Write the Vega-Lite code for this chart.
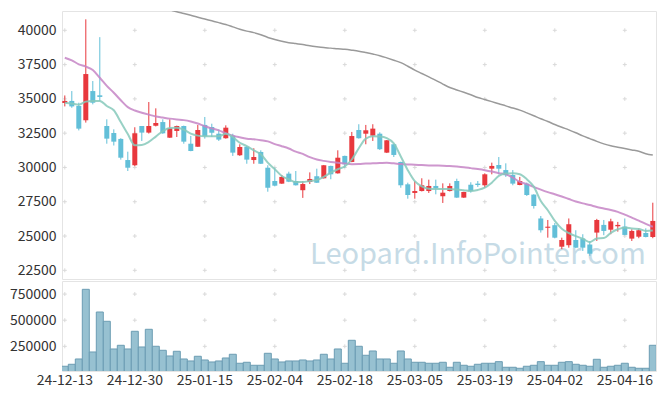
{
  "$schema": "https://vega.github.io/schema/vega-lite/v6.json",
  "background": "white",
  "padding": {"left": 8, "top": 10, "right": 5, "bottom": 5},
  "config": {
    "view": {"stroke": "#e4e4e4", "strokeWidth": 1},
    "axis": {"domain": false, "ticks": false, "grid": false, "labelFont": "Noto Sans CJK KR", "labelFontSize": 14, "labelColor": "#333333"},
    "concat": {"spacing": 0}
  },
  "datasets": {
    "px": [
      {"d":"24-12-13","o":34700,"h":35250,"l":34450,"c":34850,"v":59300,"m5":34720,"m20":38000,"m60":null},
      {"d":"24-12-16","o":34850,"h":35570,"l":34350,"c":34450,"v":78400,"m5":34660,"m20":37810,"m60":null},
      {"d":"24-12-17","o":34480,"h":34720,"l":32700,"c":32830,"v":129000,"m5":34570,"m20":37520,"m60":null},
      {"d":"24-12-18","o":33440,"h":40800,"l":33270,"c":36810,"v":795400,"m5":34800,"m20":37350,"m60":null},
      {"d":"24-12-19","o":35570,"h":36300,"l":34600,"c":34720,"v":196000,"m5":34850,"m20":37100,"m60":null},
      {"d":"24-12-20","o":35260,"h":39500,"l":34850,"c":35140,"v":578400,"m5":34850,"m20":36540,"m60":null},
      {"d":"24-12-23","o":33020,"h":33510,"l":31730,"c":32100,"v":489500,"m5":34480,"m20":35950,"m60":null},
      {"d":"24-12-24","o":32510,"h":32780,"l":31600,"c":31880,"v":224700,"m5":34170,"m20":35450,"m60":null},
      {"d":"24-12-26","o":32080,"h":32130,"l":30570,"c":30710,"v":260000,"m5":33310,"m20":34900,"m60":null},
      {"d":"24-12-27","o":30540,"h":31150,"l":29740,"c":29980,"v":224700,"m5":32440,"m20":34400,"m60":null},
      {"d":"24-12-30","o":30160,"h":32930,"l":30090,"c":32490,"v":393900,"m5":31620,"m20":34150,"m60":null},
      {"d":"25-01-02","o":33020,"h":33020,"l":31930,"c":32540,"v":243800,"m5":31640,"m20":33990,"m60":null},
      {"d":"25-01-03","o":32540,"h":34770,"l":32470,"c":33020,"v":413000,"m5":31860,"m20":33850,"m60":null},
      {"d":"25-01-06","o":33040,"h":34310,"l":32990,"c":33240,"v":250500,"m5":32250,"m20":33720,"m60":null},
      {"d":"25-01-07","o":33310,"h":33510,"l":32450,"c":32490,"v":212200,"m5":32650,"m20":33640,"m60":41650},
      {"d":"25-01-08","o":32170,"h":33510,"l":32150,"c":32860,"v":157700,"m5":32880,"m20":33560,"m60":41500},
      {"d":"25-01-09","o":32660,"h":33050,"l":32220,"c":33020,"v":202700,"m5":32900,"m20":33500,"m60":41350},
      {"d":"25-01-10","o":33020,"h":33050,"l":31730,"c":31880,"v":129000,"m5":32760,"m20":33450,"m60":41230},
      {"d":"25-01-13","o":31730,"h":32300,"l":31180,"c":31200,"v":110000,"m5":32460,"m20":33350,"m60":41100},
      {"d":"25-01-14","o":31510,"h":33100,"l":31500,"c":32730,"v":154900,"m5":32320,"m20":33200,"m60":40950},
      {"d":"25-01-15","o":33100,"h":33680,"l":32100,"c":32270,"v":119500,"m5":32280,"m20":33000,"m60":40820},
      {"d":"25-01-16","o":32950,"h":33190,"l":32220,"c":32530,"v":100400,"m5":32280,"m20":32850,"m60":40690},
      {"d":"25-01-17","o":32460,"h":32780,"l":31930,"c":32030,"v":110000,"m5":32280,"m20":32700,"m60":40560},
      {"d":"25-01-20","o":32130,"h":33070,"l":32100,"c":32900,"v":138600,"m5":32450,"m20":32500,"m60":40420},
      {"d":"25-01-21","o":32320,"h":32460,"l":30840,"c":31080,"v":174000,"m5":32220,"m20":32320,"m60":40250},
      {"d":"25-01-22","o":30890,"h":31690,"l":30840,"c":31490,"v":88000,"m5":31800,"m20":32200,"m60":40080},
      {"d":"25-01-23","o":31510,"h":31550,"l":30270,"c":30570,"v":97500,"m5":31560,"m20":32100,"m60":39940},
      {"d":"25-01-24","o":30540,"h":31400,"l":30270,"c":30760,"v":68800,"m5":31250,"m20":32050,"m60":39830},
      {"d":"25-01-31","o":31130,"h":31250,"l":30250,"c":30270,"v":68800,"m5":30960,"m20":31980,"m60":39680},
      {"d":"25-02-03","o":29980,"h":30160,"l":28230,"c":28520,"v":183500,"m5":30350,"m20":31900,"m60":39480},
      {"d":"25-02-04","o":29010,"h":29980,"l":28620,"c":28670,"v":129000,"m5":29870,"m20":31700,"m60":39330},
      {"d":"25-02-05","o":28820,"h":29450,"l":28800,"c":29310,"v":100400,"m5":29380,"m20":31550,"m60":39200},
      {"d":"25-02-06","o":29550,"h":29690,"l":28930,"c":28960,"v":110000,"m5":29140,"m20":31380,"m60":39100},
      {"d":"25-02-07","o":29010,"h":29740,"l":28680,"c":28700,"v":110000,"m5":28940,"m20":31150,"m60":39030},
      {"d":"25-02-10","o":28340,"h":29000,"l":27780,"c":28790,"v":119500,"m5":28940,"m20":30990,"m60":38960},
      {"d":"25-02-11","o":28940,"h":29640,"l":28790,"c":29160,"v":110000,"m5":29010,"m20":30750,"m60":38870},
      {"d":"25-02-12","o":29350,"h":29910,"l":28870,"c":28890,"v":119500,"m5":29090,"m20":30580,"m60":38800},
      {"d":"25-02-13","o":29210,"h":30180,"l":29190,"c":30160,"v":174000,"m5":29310,"m20":30480,"m60":38740},
      {"d":"25-02-14","o":30110,"h":30130,"l":29140,"c":29500,"v":129000,"m5":29620,"m20":30400,"m60":38700},
      {"d":"25-02-17","o":29570,"h":31250,"l":29550,"c":30710,"v":224700,"m5":29870,"m20":30340,"m60":38650},
      {"d":"25-02-18","o":30840,"h":30860,"l":29980,"c":30230,"v":88000,"m5":30080,"m20":30290,"m60":38610},
      {"d":"25-02-19","o":30400,"h":32590,"l":30380,"c":32290,"v":307800,"m5":30580,"m20":30240,"m60":38550},
      {"d":"25-02-20","o":32730,"h":33150,"l":32100,"c":32130,"v":250500,"m5":31400,"m20":30250,"m60":38480},
      {"d":"25-02-21","o":32460,"h":33100,"l":31690,"c":32710,"v":164400,"m5":32100,"m20":30280,"m60":38380},
      {"d":"25-02-24","o":32320,"h":33150,"l":31930,"c":32830,"v":205500,"m5":32270,"m20":30300,"m60":38270},
      {"d":"25-02-25","o":32460,"h":32560,"l":31270,"c":31330,"v":129000,"m5":32250,"m20":30320,"m60":38150},
      {"d":"25-02-26","o":31080,"h":32000,"l":31050,"c":31980,"v":129000,"m5":32140,"m20":30340,"m60":37990},
      {"d":"25-02-27","o":31690,"h":31720,"l":30760,"c":30910,"v":88000,"m5":31750,"m20":30300,"m60":37820},
      {"d":"25-02-28","o":30400,"h":30420,"l":28520,"c":28700,"v":205500,"m5":30800,"m20":30250,"m60":37640},
      {"d":"25-03-04","o":28770,"h":28890,"l":27720,"c":27990,"v":129000,"m5":29800,"m20":30220,"m60":37380},
      {"d":"25-03-05","o":28140,"h":29010,"l":27720,"c":28280,"v":97500,"m5":29000,"m20":30200,"m60":37100},
      {"d":"25-03-06","o":28280,"h":29210,"l":28250,"c":28700,"v":97500,"m5":28620,"m20":30170,"m60":36850},
      {"d":"25-03-07","o":28280,"h":29110,"l":28140,"c":28650,"v":88000,"m5":28450,"m20":30150,"m60":36600},
      {"d":"25-03-10","o":28650,"h":29110,"l":28040,"c":28480,"v":88000,"m5":28430,"m20":30140,"m60":36350},
      {"d":"25-03-11","o":27900,"h":28840,"l":27410,"c":28160,"v":97500,"m5":28430,"m20":30130,"m60":36080},
      {"d":"25-03-12","o":28280,"h":28840,"l":28250,"c":28650,"v":49700,"m5":28420,"m20":30110,"m60":35830},
      {"d":"25-03-13","o":29010,"h":29180,"l":27780,"c":27800,"v":97500,"m5":28400,"m20":30070,"m60":35650},
      {"d":"25-03-14","o":27800,"h":28230,"l":27780,"c":28210,"v":68800,"m5":28340,"m20":30020,"m60":35480},
      {"d":"25-03-17","o":28740,"h":28920,"l":28160,"c":28280,"v":59300,"m5":28280,"m20":29950,"m60":35300},
      {"d":"25-03-18","o":28820,"h":29010,"l":28580,"c":28720,"v":78400,"m5":28360,"m20":29880,"m60":35100},
      {"d":"25-03-19","o":28700,"h":29570,"l":28520,"c":29500,"v":88000,"m5":28530,"m20":29800,"m60":34950},
      {"d":"25-03-20","o":29910,"h":30350,"l":29500,"c":30110,"v":88000,"m5":28890,"m20":29700,"m60":34800},
      {"d":"25-03-21","o":30180,"h":30760,"l":29500,"c":29910,"v":103300,"m5":29380,"m20":29580,"m60":34640},
      {"d":"25-03-24","o":29810,"h":30300,"l":29310,"c":29430,"v":49700,"m5":29550,"m20":29500,"m60":34490},
      {"d":"25-03-25","o":29450,"h":29810,"l":28700,"c":28820,"v":49700,"m5":29570,"m20":29250,"m60":34330},
      {"d":"25-03-26","o":28720,"h":29310,"l":28700,"c":29010,"v":40100,"m5":29500,"m20":28950,"m60":34180},
      {"d":"25-03-27","o":28820,"h":28900,"l":27920,"c":27990,"v":59300,"m5":29140,"m20":28780,"m60":33980},
      {"d":"25-03-28","o":28020,"h":28050,"l":27000,"c":27190,"v":68800,"m5":28600,"m20":28580,"m60":33770},
      {"d":"25-03-31","o":26280,"h":26460,"l":25250,"c":25420,"v":103300,"m5":27550,"m20":28380,"m60":33550},
      {"d":"25-04-01","o":25600,"h":26170,"l":24880,"c":25680,"v":68800,"m5":26880,"m20":28200,"m60":33350},
      {"d":"25-04-02","o":25790,"h":25950,"l":24830,"c":24880,"v":68800,"m5":26100,"m20":28050,"m60":33130},
      {"d":"25-04-03","o":24220,"h":24880,"l":24040,"c":24710,"v":97500,"m5":25530,"m20":27880,"m60":32930},
      {"d":"25-04-04","o":24330,"h":26280,"l":24150,"c":25860,"v":103300,"m5":25220,"m20":27700,"m60":32740},
      {"d":"25-04-07","o":24710,"h":25420,"l":24130,"c":24150,"v":78400,"m5":24990,"m20":27520,"m60":32530},
      {"d":"25-04-08","o":24810,"h":25130,"l":23910,"c":24150,"v":68800,"m5":24800,"m20":27380,"m60":32300},
      {"d":"25-04-09","o":24380,"h":24640,"l":23550,"c":23710,"v":59300,"m5":24550,"m20":27260,"m60":32100},
      {"d":"25-04-10","o":25250,"h":26250,"l":24640,"c":26170,"v":126000,"m5":24820,"m20":27120,"m60":31900},
      {"d":"25-04-11","o":25810,"h":26170,"l":25060,"c":25370,"v":49700,"m5":24850,"m20":27010,"m60":31720},
      {"d":"25-04-14","o":25460,"h":26260,"l":25130,"c":26070,"v":59300,"m5":25230,"m20":26900,"m60":31580},
      {"d":"25-04-15","o":25710,"h":26030,"l":25320,"c":25810,"v":68800,"m5":25490,"m20":26760,"m60":31480},
      {"d":"25-04-16","o":25690,"h":26280,"l":25050,"c":25080,"v":88000,"m5":25630,"m20":26560,"m60":31380},
      {"d":"25-04-17","o":24810,"h":25490,"l":24640,"c":25370,"v":49700,"m5":25550,"m20":26340,"m60":31280},
      {"d":"25-04-18","o":24950,"h":25560,"l":24840,"c":25420,"v":40100,"m5":25520,"m20":26120,"m60":31180},
      {"d":"25-04-21","o":25220,"h":25560,"l":24900,"c":24930,"v":40100,"m5":25370,"m20":25880,"m60":31000},
      {"d":"25-04-22","o":24930,"h":27430,"l":24840,"c":26100,"v":260000,"m5":25400,"m20":25670,"m60":30900}
    ],
    "pgrid": [
      {"d":"24-12-13","g":[22500,25000,27500,30000,32500,35000,37500,40000]},
      {"d":"24-12-30","g":[22500,25000,27500,30000,32500,35000,37500,40000]},
      {"d":"25-01-15","g":[22500,25000,27500,30000,32500,35000,37500,40000]},
      {"d":"25-02-04","g":[22500,25000,27500,30000,32500,35000,37500,40000]},
      {"d":"25-02-18","g":[22500,25000,27500,30000,32500,35000,37500,40000]},
      {"d":"25-03-05","g":[22500,25000,27500,30000,32500,35000,37500,40000]},
      {"d":"25-03-19","g":[22500,25000,27500,30000,32500,35000,37500,40000]},
      {"d":"25-04-02","g":[22500,25000,27500,30000,32500,35000,37500,40000]},
      {"d":"25-04-16","g":[22500,25000,27500,30000,32500,35000,37500,40000]}
    ],
    "vgrid": [
      {"d":"24-12-13","g":[250000,500000,750000]},
      {"d":"24-12-30","g":[250000,500000,750000]},
      {"d":"25-01-15","g":[250000,500000,750000]},
      {"d":"25-02-04","g":[250000,500000,750000]},
      {"d":"25-02-18","g":[250000,500000,750000]},
      {"d":"25-03-05","g":[250000,500000,750000]},
      {"d":"25-03-19","g":[250000,500000,750000]},
      {"d":"25-04-02","g":[250000,500000,750000]},
      {"d":"25-04-16","g":[250000,500000,750000]}
    ],
    "mark": [{"d":"25-04-21","y":22940,"t":"Leopard.InfoPointer.com"}]
  },
  "resolve": {"scale": {"y": "independent"}},
  "vconcat": [
    {
      "width": 594,
      "height": 268,
      "encoding": {
        "x": {"field": "d", "type": "ordinal", "scale": {"type": "band", "paddingInner": 0, "paddingOuter": 0, "range": [-0.7, 594.3]}, "axis": null}
      },
      "layer": [
        {
          "data": {"name": "pgrid"},
          "transform": [{"flatten": ["g"]}],
          "mark": {"type": "point", "shape": "M-1,0L1,0M0,-1L0,1", "size": 16, "filled": false, "stroke": "#d9d9d9", "strokeWidth": 1, "opacity": 1},
          "encoding": {
            "y": {"field": "g", "type": "quantitative", "scale": {"domain": [21866, 41407], "zero": false, "nice": false},
                  "axis": {"values": [22500,25000,27500,30000,32500,35000,37500,40000], "format": "d", "title": null, "labelPadding": 6}}
          }
        },
        {
          "data": {"name": "mark"},
          "mark": {"type": "text", "font": "Noto Sans CJK KR", "fontSize": 29, "align": "right", "baseline": "alphabetic", "color": "#c6dbe6"},
          "encoding": {
            "y": {"field": "y", "type": "quantitative", "scale": {"domain": [21866, 41407], "zero": false, "nice": false},
                  "axis": {"values": [22500,25000,27500,30000,32500,35000,37500,40000], "format": "d", "title": null, "labelPadding": 6}},
            "text": {"field": "t"}
          }
        },
        {
          "data": {"name": "px"},
          "mark": {"type": "rule", "strokeWidth": 1},
          "encoding": {
            "y": {"field": "l", "type": "quantitative", "scale": {"domain": [21866, 41407], "zero": false, "nice": false},
                  "axis": {"values": [22500,25000,27500,30000,32500,35000,37500,40000], "format": "d", "title": null, "labelPadding": 6}},
            "y2": {"field": "h"},
            "color": {"condition": {"test": "datum.c >= datum.o", "value": "#e8383d"}, "value": "#62bfd8"}
          }
        },
        {
          "data": {"name": "px"},
          "mark": {"type": "bar", "size": 5},
          "encoding": {
            "y": {"field": "o", "type": "quantitative", "scale": {"domain": [21866, 41407], "zero": false, "nice": false},
                  "axis": {"values": [22500,25000,27500,30000,32500,35000,37500,40000], "format": "d", "title": null, "labelPadding": 6}},
            "y2": {"field": "c"},
            "color": {"condition": {"test": "datum.c >= datum.o", "value": "#e8383d"}, "value": "#62bfd8"}
          }
        },
        {
          "data": {"name": "px"},
          "mark": {"type": "line", "clip": true, "color": "#9a9a9a", "strokeWidth": 1.5, "interpolate": "monotone"},
          "encoding": {"y": {"field": "m60", "type": "quantitative", "scale": {"domain": [21866, 41407], "zero": false, "nice": false},
                  "axis": {"values": [22500,25000,27500,30000,32500,35000,37500,40000], "format": "d", "title": null, "labelPadding": 6}}}
        },
        {
          "data": {"name": "px"},
          "mark": {"type": "line", "clip": true, "color": "#c585c6", "strokeWidth": 2, "opacity": 0.85, "interpolate": "monotone"},
          "encoding": {"y": {"field": "m20", "type": "quantitative", "scale": {"domain": [21866, 41407], "zero": false, "nice": false},
                  "axis": {"values": [22500,25000,27500,30000,32500,35000,37500,40000], "format": "d", "title": null, "labelPadding": 6}}}
        },
        {
          "data": {"name": "px"},
          "mark": {"type": "line", "clip": true, "color": "#86c9bb", "strokeWidth": 2, "opacity": 0.85, "interpolate": "monotone"},
          "encoding": {"y": {"field": "m5", "type": "quantitative", "scale": {"domain": [21866, 41407], "zero": false, "nice": false},
                  "axis": {"values": [22500,25000,27500,30000,32500,35000,37500,40000], "format": "d", "title": null, "labelPadding": 6}}}
        }
      ]
    },
    {
      "width": 594,
      "height": 90,
      "encoding": {
        "x": {"field": "d", "type": "ordinal", "scale": {"type": "band", "paddingInner": 0, "paddingOuter": 0, "range": [-0.7, 594.3]},
              "axis": {"values": ["24-12-13","24-12-30","25-01-15","25-02-04","25-02-18","25-03-05","25-03-19","25-04-02","25-04-16"], "labelAngle": 0, "title": null, "labelPadding": 2}}
      },
      "layer": [
        {
          "data": {"name": "vgrid"},
          "transform": [{"flatten": ["g"]}],
          "mark": {"type": "point", "shape": "M-1,0L1,0M0,-1L0,1", "size": 16, "filled": false, "stroke": "#d9d9d9", "strokeWidth": 1, "opacity": 1},
          "encoding": {
            "y": {"field": "g", "type": "quantitative", "scale": {"domain": [14000, 875000], "zero": false, "nice": false},
                  "axis": {"values": [250000, 500000, 750000], "format": "d", "title": null, "labelPadding": 6}}
          }
        },
        {
          "data": {"name": "px"},
          "mark": {"type": "bar", "clip": true, "fill": "#97c1d1", "stroke": "#6c9db3", "strokeWidth": 1},
          "encoding": {"y": {"field": "v", "type": "quantitative", "scale": {"domain": [14000, 875000], "zero": false, "nice": false},
                  "axis": {"values": [250000, 500000, 750000], "format": "d", "title": null, "labelPadding": 6}}}
        }
      ]
    }
  ]
}
